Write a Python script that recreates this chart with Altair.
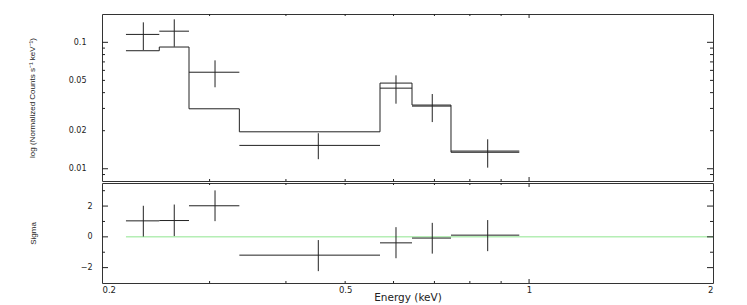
import altair as alt
import pandas as pd

# ---- data ----
bin_lo = [0.2189, 0.2482, 0.2776, 0.3356, 0.5702, 0.6433, 0.7451]
bin_hi = [0.2482, 0.2776, 0.3356, 0.5702, 0.6433, 0.7451, 0.9638]
bin_cen = [0.2337, 0.2626, 0.3062, 0.4519, 0.6056, 0.6943, 0.8556]
rate = [0.1155, 0.1225, 0.0580, 0.0153, 0.0434, 0.0313, 0.0138]
rate_lo = [0.0869, 0.0923, 0.0441, 0.0119, 0.0327, 0.0234, 0.0102]
rate_hi = [0.1439, 0.1520, 0.0720, 0.0191, 0.0548, 0.0390, 0.0171]
model = [0.0858, 0.0918, 0.0298, 0.0196, 0.0476, 0.0319, 0.0135]
sigma = [1.04, 1.06, 2.02, -1.19, -0.39, -0.08, 0.11]
sigma_lo = [0.02, 0.05, 1.02, -2.23, -1.39, -1.09, -0.93]
sigma_hi = [2.02, 2.10, 3.02, -0.21, 0.63, 0.91, 1.09]

x_labels = [0.2, 0.5, 1, 2]
x_minor = [0.3, 0.4, 0.5, 0.6, 0.7, 0.8, 0.9]
x_major = [1]
y1_labels = [0.01, 0.02, 0.05, 0.1]
y1_major = [0.01, 0.1]
y1_minor = [0.009, 0.02, 0.03, 0.04, 0.05, 0.06, 0.07, 0.08, 0.09]
y2_labels = [-2, 0, 2]
y2_major = [-2, 0, 2]
y2_minor = [-1, 1, 3]
zero_line = [0.2189, 2.0]

W, H1, H2 = 611, 167, 100
INK = "#222222"

df = pd.DataFrame({"lo": bin_lo, "hi": bin_hi, "cen": bin_cen,
                   "rate": rate, "rate_lo": rate_lo, "rate_hi": rate_hi,
                   "sigma": sigma, "sigma_lo": sigma_lo, "sigma_hi": sigma_hi})
model_df = pd.DataFrame({"e": bin_lo + [bin_hi[-1]], "m": model + [model[-1]]})
zero_df = pd.DataFrame({"e": zero_line, "z": [0, 0]})

xs = alt.Scale(type="log", domain=[0.2, 2], nice=False)
ys1 = alt.Scale(type="log", domain=[0.008, 0.1675], nice=False)
ys2 = alt.Scale(domain=[-3, 3.5], nice=False, zero=False)

y1_axis = alt.Axis(values=y1_labels, format="~g", ticks=False, domain=False, grid=False,
                   labelFont="DejaVu Sans", labelFontSize=8, labelPadding=16, labelColor="#222",
                   title="log (Normalized Counts s⁻¹ keV⁻¹)", titleFont="Liberation Sans",
                   titleFontSize=8, titleFontWeight="normal", titleColor="#222", titlePadding=32)
x_axis = alt.Axis(values=x_labels, format="~g", ticks=False, domain=False, grid=False,
                  labelFont="DejaVu Sans", labelFontSize=8.5, labelPadding=2, labelColor="#222",
                  title="Energy (keV)", titleFont="DejaVu Sans", titleFontSize=10.5,
                  titleFontWeight="normal", titleColor="#222", titlePadding=-1)
y2_axis = alt.Axis(values=y2_labels, format="~g", ticks=False, domain=False, grid=False,
                   labelFont="DejaVu Sans", labelFontSize=8, labelPadding=10, labelColor="#222",
                   title="Sigma", titleFont="Liberation Sans", titleFontSize=8,
                   titleFontWeight="normal", titleColor="#222", titlePadding=43)

frame = alt.ViewBackground(stroke="#333333", strokeWidth=1, fill="white")


def xticks(vals, length, h, xaxis):
    d = pd.DataFrame({"t": vals})
    top = alt.Chart(d).mark_rule(color=INK, strokeWidth=1).encode(
        x=alt.X("t:Q", scale=xs, axis=xaxis), y=alt.value(0), y2=alt.value(length))
    bot = alt.Chart(d).mark_rule(color=INK, strokeWidth=1).encode(
        x=alt.X("t:Q", scale=xs, axis=xaxis), y=alt.value(h), y2=alt.value(h - length))
    return [top, bot]


def yticks(vals, length, scale, yaxis):
    d = pd.DataFrame({"t": vals})
    left = alt.Chart(d).mark_rule(color=INK, strokeWidth=1).encode(
        y=alt.Y("t:Q", scale=scale, axis=yaxis), x=alt.value(0), x2=alt.value(length))
    right = alt.Chart(d).mark_rule(color=INK, strokeWidth=1).encode(
        y=alt.Y("t:Q", scale=scale, axis=yaxis), x=alt.value(W), x2=alt.value(W - length))
    return [left, right]


# ---- top panel ----
top_h = alt.Chart(df).mark_rule(color=INK, strokeWidth=1).encode(
    x=alt.X("lo:Q", scale=xs, axis=None), x2="hi:Q",
    y=alt.Y("rate:Q", scale=ys1, axis=y1_axis))
top_v = alt.Chart(df).mark_rule(color=INK, strokeWidth=1).encode(
    x=alt.X("cen:Q", scale=xs, axis=None),
    y=alt.Y("rate_lo:Q", scale=ys1, axis=y1_axis), y2="rate_hi:Q")
top_model = alt.Chart(model_df).mark_line(color=INK, strokeWidth=1, interpolate="step-after").encode(
    x=alt.X("e:Q", scale=xs, axis=None), y=alt.Y("m:Q", scale=ys1, axis=y1_axis))

top_layers = [top_h, top_v, top_model]
top_layers += xticks(x_minor, 2, H1, None) + xticks(x_major, 4, H1, None)
top_layers += yticks(y1_minor, 3, ys1, y1_axis) + yticks(y1_major, 6, ys1, y1_axis)
top = alt.layer(*top_layers).properties(width=W, height=H1, view=frame)

# ---- bottom panel ----
zero = alt.Chart(zero_df).mark_line(color="#8ee68e", strokeWidth=1).encode(
    x=alt.X("e:Q", scale=xs, axis=x_axis), y=alt.Y("z:Q", scale=ys2, axis=y2_axis))
bot_h = alt.Chart(df).mark_rule(color=INK, strokeWidth=1).encode(
    x=alt.X("lo:Q", scale=xs, axis=x_axis), x2="hi:Q",
    y=alt.Y("sigma:Q", scale=ys2, axis=y2_axis))
bot_v = alt.Chart(df).mark_rule(color=INK, strokeWidth=1).encode(
    x=alt.X("cen:Q", scale=xs, axis=x_axis),
    y=alt.Y("sigma_lo:Q", scale=ys2, axis=y2_axis), y2="sigma_hi:Q")

bot_layers = [zero, bot_h, bot_v]
bot_layers += xticks(x_minor, 2, H2, x_axis) + xticks(x_major, 4, H2, x_axis)
bot_layers += yticks(y2_minor, 3, ys2, y2_axis) + yticks(y2_major, 6, ys2, y2_axis)
bottom = alt.layer(*bot_layers).properties(width=W, height=H2, view=frame)

chart = alt.vconcat(top, bottom, spacing=0).properties(
    padding={"left": 19, "top": 5, "right": 5, "bottom": 0}
).configure_view(stroke="#333333", strokeWidth=1).configure(background="white")

chart.save("out.html", embed_options={"renderer": "svg", "actions": False})
